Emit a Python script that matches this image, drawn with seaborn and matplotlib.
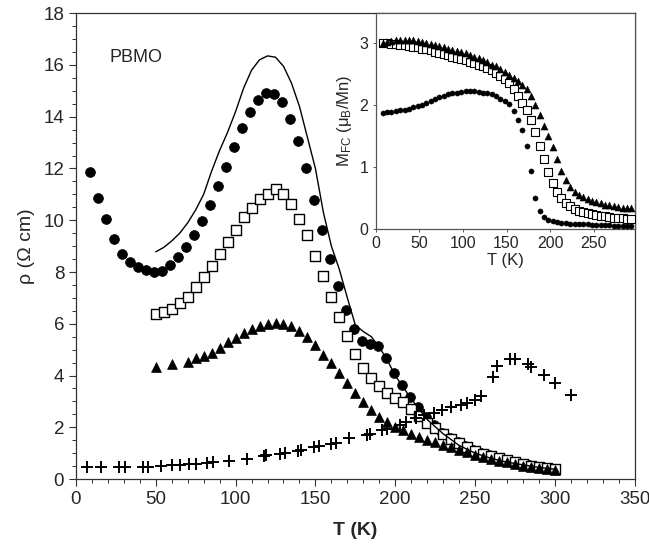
import numpy as np
import pandas as pd
import seaborn as sns
import matplotlib.pyplot as plt
from matplotlib.ticker import MultipleLocator

# main panel: resistivity rho (Ohm cm) vs T (K)
T_circ = [9, 14, 19, 24, 29, 34, 39, 44, 49, 54, 59, 64, 69, 74, 79, 84, 89, 94, 99, 104,
          109, 114, 119, 124, 129, 134, 139, 144, 149, 154, 159, 164, 169, 174, 179, 184,
          189, 194, 199, 204, 209, 214, 219, 224, 229, 234, 239, 244, 249, 254, 259, 264,
          269, 274, 279, 284, 289, 294, 299]
rho_circ = [11.87, 10.85, 10.03, 9.28, 8.69, 8.37, 8.20, 8.07, 8.00, 8.03, 8.27, 8.59, 8.97,
            9.44, 9.97, 10.6, 11.32, 12.05, 12.84, 13.56, 14.19, 14.64, 14.93, 14.86, 14.57,
            13.9, 13.05, 12.02, 10.78, 9.64, 8.51, 7.47, 6.53, 5.78, 5.35, 5.2, 5.14, 4.66,
            4.1, 3.62, 3.16, 2.77, 2.41, 2.07, 1.77, 1.58, 1.42, 1.27, 1.13, 1.01, 0.91,
            0.82, 0.74, 0.67, 0.6, 0.54, 0.48, 0.43, 0.38]

T_sq = [50, 55, 60, 65, 70, 75, 80, 85, 90, 95, 100, 105, 110, 115, 120, 125, 130, 135, 140,
        145, 150, 155, 160, 165, 170, 175, 180, 185, 190, 195, 200, 205, 210, 215, 220, 225,
        230, 235, 240, 245, 250, 255, 260, 265, 270, 275, 280, 285, 290, 295, 300]
rho_sq = [6.36, 6.44, 6.57, 6.79, 7.04, 7.43, 7.81, 8.24, 8.68, 9.17, 9.62, 10.11, 10.49,
          10.83, 11.03, 11.2, 11.01, 10.62, 10.04, 9.42, 8.62, 7.83, 7.03, 6.25, 5.52, 4.84,
          4.31, 3.89, 3.59, 3.33, 3.14, 2.96, 2.7, 2.45, 2.17, 1.96, 1.74, 1.56, 1.38, 1.24,
          1.09, 0.97, 0.88, 0.8, 0.72, 0.65, 0.58, 0.52, 0.46, 0.41, 0.37]

T_tri = [50, 60, 70, 75, 80, 85, 90, 95, 100, 105, 110, 115, 120, 125, 130, 135, 140, 145,
         150, 155, 160, 165, 170, 175, 180, 185, 190, 195, 200, 205, 210, 215, 220, 225, 230,
         235, 240, 245, 250, 255, 260, 265, 270, 275, 280, 285, 290, 295, 300]
rho_tri = [4.34, 4.44, 4.53, 4.66, 4.75, 4.88, 5.05, 5.28, 5.46, 5.63, 5.79, 5.92, 6.01,
           6.04, 6.01, 5.92, 5.72, 5.47, 5.18, 4.8, 4.47, 4.08, 3.7, 3.31, 2.99, 2.67, 2.38,
           2.21, 2.02, 1.89, 1.74, 1.61, 1.51, 1.42, 1.31, 1.22, 1.12, 1.03, 0.93, 0.84,
           0.77, 0.7, 0.64, 0.58, 0.52, 0.47, 0.42, 0.38, 0.34]

T_plus = [7, 16, 27, 31, 42, 45, 53, 60, 65, 71, 75, 82, 86, 96, 107, 118, 119, 128, 131,
          139, 141, 149, 152, 160, 163, 171, 182, 184, 192, 195, 203, 207, 213, 218, 224,
          229, 235, 241, 245, 250, 254, 261, 264, 272, 275, 283, 285, 293, 300, 310]
rho_plus = [0.45, 0.45, 0.45, 0.45, 0.46, 0.46, 0.5, 0.53, 0.55, 0.58, 0.6, 0.63, 0.64,
            0.71, 0.79, 0.88, 0.92, 0.97, 0.99, 1.1, 1.12, 1.24, 1.28, 1.37, 1.39, 1.57,
            1.7, 1.74, 1.9, 1.95, 2.1, 2.2, 2.35, 2.47, 2.57, 2.67, 2.77, 2.88, 2.95, 3.05,
            3.2, 3.95, 4.36, 4.62, 4.62, 4.43, 4.34, 4.02, 3.7, 3.24]

T_line = [50, 55, 60, 65, 70, 75, 80, 85, 90, 95, 100, 105, 110, 115, 120, 125, 130, 135,
          140, 145, 150, 155, 160, 165, 170, 175, 180, 185, 190, 195, 200, 210, 220, 230,
          240, 250, 260, 270, 280, 290, 300]
rho_line = [8.78, 8.95, 9.2, 9.5, 9.9, 10.4, 11.0, 11.9, 12.7, 13.4, 14.2, 15.1, 15.8, 16.2,
            16.35, 16.3, 15.95, 15.3, 14.4, 13.2, 12.0, 10.3, 9.0, 8.1, 7.0, 5.95, 5.7, 5.5,
            5.1, 4.6, 4.0, 3.1, 2.3, 1.75, 1.3, 1.0, 0.8, 0.65, 0.55, 0.45, 0.38]

# inset: field-cooled magnetization (muB/Mn) vs T (K)
T_in = list(range(8, 294, 5))
M_circ = [1.87, 1.88, 1.89, 1.90, 1.91, 1.92, 1.94, 1.96, 1.98, 2.0, 2.03, 2.06, 2.09, 2.12,
          2.15, 2.18, 2.2, 2.2, 2.21, 2.22, 2.22, 2.22, 2.21, 2.2, 2.19, 2.17, 2.14, 2.1,
          2.07, 2.02, 1.9, 1.76, 1.6, 1.33, 0.94, 0.5, 0.29, 0.19, 0.15, 0.13, 0.11, 0.1,
          0.09, 0.085, 0.08, 0.075, 0.07, 0.07, 0.065, 0.06, 0.06, 0.055, 0.055, 0.05,
          0.05, 0.05, 0.045, 0.045]
M_sq = [3.0, 3.0, 2.99, 2.98, 2.97, 2.96, 2.95, 2.94, 2.93, 2.91, 2.9, 2.88, 2.86, 2.84,
        2.82, 2.8, 2.78, 2.76, 2.74, 2.72, 2.7, 2.67, 2.65, 2.62, 2.59, 2.56, 2.52, 2.47,
        2.42, 2.35, 2.25, 2.15, 2.03, 1.91, 1.76, 1.56, 1.33, 1.12, 0.92, 0.74, 0.6, 0.49,
        0.41, 0.36, 0.32, 0.29, 0.27, 0.25, 0.235, 0.22, 0.21, 0.2, 0.19, 0.18, 0.175,
        0.17, 0.165, 0.16]
M_tri = [3.0, 3.02, 3.03, 3.04, 3.05, 3.05, 3.05, 3.04, 3.03, 3.02, 3.0, 2.99, 2.97, 2.95,
         2.93, 2.91, 2.89, 2.87, 2.85, 2.83, 2.8, 2.78, 2.75, 2.72, 2.69, 2.65, 2.62, 2.58,
         2.53, 2.48, 2.43, 2.38, 2.32, 2.25, 2.15, 2.0, 1.83, 1.66, 1.49, 1.32, 1.12, 0.93,
         0.79, 0.67, 0.6, 0.55, 0.51, 0.48, 0.45, 0.43, 0.41, 0.39, 0.38, 0.36, 0.35, 0.34,
         0.33, 0.33]

sns.set_style("ticks")
plt.rcParams['font.family'] = ['Liberation Sans', 'DejaVu Sans']
plt.rcParams['mathtext.fontset'] = 'custom'
plt.rcParams['mathtext.rm'] = 'Liberation Sans'
plt.rcParams['mathtext.it'] = 'Liberation Sans:italic'

fig = plt.figure(figsize=(6.49, 5.5), dpi=100)
ax = fig.add_axes([0.117, 0.129, 0.861, 0.847])

sns.scatterplot(x=T_circ, y=rho_circ, marker='o', s=50, color='black', edgecolor='black',
                linewidth=0.5, ax=ax, zorder=3)
sns.scatterplot(x=T_sq, y=rho_sq, marker='s', s=50, color='white', edgecolor='black',
                linewidth=1.0, ax=ax, zorder=4)
sns.scatterplot(x=T_tri, y=rho_tri, marker='^', s=50, color='black', edgecolor='black',
                linewidth=0.5, ax=ax, zorder=5)
sns.scatterplot(x=T_plus, y=rho_plus, marker='+', s=70, color='black', linewidth=1.4,
                ax=ax, zorder=5)
sns.lineplot(x=T_line, y=rho_line, color='black', linewidth=1.0, ax=ax, zorder=6)

ax.set_xlim(0, 350)
ax.set_ylim(0, 18)
ax.xaxis.set_major_locator(MultipleLocator(50))
ax.xaxis.set_minor_locator(MultipleLocator(10))
ax.yaxis.set_major_locator(MultipleLocator(2))
ax.yaxis.set_minor_locator(MultipleLocator(0.5))
ax.tick_params(which='major', direction='out', length=5, width=0.8, labelsize=13.5,
               color='#333333')
ax.tick_params(which='minor', direction='out', length=3, width=0.7, color='#333333')
for sp in ax.spines.values():
    sp.set_visible(True)
    sp.set_color('#333333')
    sp.set_linewidth(0.9)
ax.set_xlabel('T (K)', fontsize=14, fontweight='bold', labelpad=10)
ax.set_ylabel('ρ (Ω cm)', fontsize=14, labelpad=6)
ax.text(21, 16.3, 'PBMO', fontsize=13, va='center', ha='left')

# inset
axi = fig.add_axes([0.579, 0.584, 0.399, 0.392])
axi.set_facecolor('white')
sns.scatterplot(x=T_in, y=M_circ, marker='o', s=14, color='black', edgecolor='black',
                linewidth=0.3, ax=axi, zorder=3)
sns.scatterplot(x=T_in, y=M_sq, marker='s', s=26, color='white', edgecolor='black',
                linewidth=0.8, ax=axi, zorder=4)
sns.scatterplot(x=T_in, y=M_tri, marker='^', s=26, color='black', edgecolor='black',
                linewidth=0.3, ax=axi, zorder=5)
axi.set_xlim(0, 297)
axi.set_ylim(0, 3.48)
axi.set_xticks([0, 50, 100, 150, 200, 250])
axi.set_yticks([0, 1, 2, 3])
axi.tick_params(direction='out', length=2.5, width=0.7, labelsize=11.5, color='#555555',
                pad=3)
for sp in axi.spines.values():
    sp.set_visible(True)
    sp.set_color('#555555')
    sp.set_linewidth(0.9)
axi.set_xlabel('T (K)', fontsize=12, labelpad=1)
axi.set_ylabel(r'M$_\mathregular{FC}$ (μ$_\mathregular{B}$/Mn)', fontsize=12, labelpad=4)

fig.savefig('out.png', dpi=100)
